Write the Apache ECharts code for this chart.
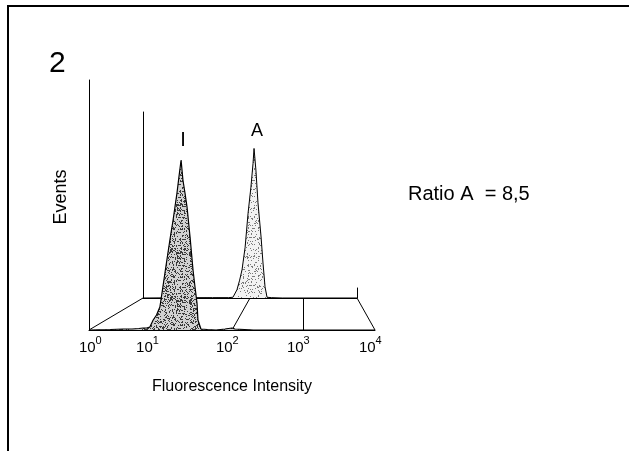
<!DOCTYPE html>
<html>
<head>
<meta charset="utf-8">
<script src="https://cdn.jsdelivr.net/npm/echarts@6/dist/echarts.min.js"></script>
<style>
  html, body { margin: 0; padding: 0; background: #fff; }
  #chart { width: 629px; height: 451px; }
</style>
</head>
<body>
<div id="chart"></div>
<script>
// histogram I (front row): fluorescence channel -> events
const channelI = [1, 2, 3, 4, 5, 5.7, 6.4, 7.1, 7.9, 8.8, 9.8, 10.8, 11.7, 12.7, 13.8, 15, 16, 17, 18.1, 19.4,
  20.6, 22, 23.5, 25.9, 28.5, 30.5, 32.4, 33.4, 36.8, 45, 60, 80, 100, 110, 150, 200, 10000];
const countsI = [0, 0.5, 1, 1, 1.5, 2, 2, 3, 10, 15, 23, 43, 60, 77, 94, 110, 124, 137, 153, 170,
  150, 137, 123, 93, 60, 42, 27, 10, 1, 0.5, 0, 1, 2, 1, 0.5, 0, 0];
// histogram A (back row)
const channelA = [1, 10, 20, 40, 48, 57, 64, 71, 81, 92, 104, 114, 119, 129, 141, 161, 175, 191, 208, 250, 400, 10000];
const countsA = [0, 0.5, 0.5, 0.5, 1, 11, 24, 38, 68, 114, 149, 181, 201, 172, 128, 82, 47, 15, 1, 0.5, 0, 0];
const decades = [1, 10, 100, 1000, 10000];
const floorDecades = [1, 100, 1000, 10000];
const peakI = [19.4, 170];
const peakA = [119, 201];

const FONT = '"Liberation Sans", Arial, Helvetica, sans-serif';
// hand placed tick labels in the original figure (px shift per decade)
const labelNudge = [1.3, -13, -4.7, -5.2, -4.7];

function stipple(base, dot, density, seed) {
  const c = document.createElement('canvas');
  c.width = c.height = 48;
  const ctx = c.getContext('2d');
  ctx.fillStyle = base;
  ctx.fillRect(0, 0, 48, 48);
  ctx.fillStyle = dot;
  let s = seed;
  for (let y = 0; y < 48; y++) {
    for (let x = 0; x < 48; x++) {
      s = (Math.imul(s, 1103515245) + 12345) >>> 0;
      if ((s >>> 16) / 65536 < density) ctx.fillRect(x, y, 1, 1);
    }
  }
  return c;
}

const rich = {
  b: { fontSize: 15, lineHeight: 20, verticalAlign: 'bottom', color: '#000', fontFamily: FONT },
  s: { fontSize: 11, lineHeight: 12, verticalAlign: 'top', color: '#000', fontFamily: FONT }
};
labelNudge.forEach((n, i) => {
  rich['p' + i] = { width: Math.abs(n) * 2, fontSize: 10 };
});

const chart = echarts.init(document.getElementById('chart'));

const option = {
  animation: false,
  backgroundColor: '#fff',
  title: {
    text: '2', left: 44, top: 44,
    textStyle: { fontSize: 30, fontWeight: 'normal', color: '#000', fontFamily: FONT }
  },
  grid: [
    { left: 89, right: 254, top: 80, bottom: 121 },   // front row
    { left: 143, right: 272, top: 112, bottom: 153 }  // back row
  ],
  xAxis: [
    {
      type: 'log', logBase: 10, min: 1, max: 10000, gridIndex: 0,
      axisLine: { lineStyle: { color: '#000', width: 1 } },
      axisTick: { show: false }, splitLine: { show: false },
      axisLabel: {
        margin: 5,
        formatter: v => {
          const n = Math.round(Math.log10(v));
          const main = '{b|10}{s|' + n + '}';
          const pad = '{p' + n + '| }';
          return labelNudge[n] >= 0 ? pad + main : main + pad;
        },
        rich: rich
      },
      name: 'Fluorescence Intensity', nameLocation: 'middle', nameGap: 49,
      nameTextStyle: { fontSize: 16, color: '#000', fontFamily: FONT }
    },
    {
      type: 'log', logBase: 10, min: 1, max: 10000, gridIndex: 1,
      axisLine: { lineStyle: { color: '#000', width: 1 } },
      axisTick: { show: false }, splitLine: { show: false }, axisLabel: { show: false }
    }
  ],
  yAxis: [
    {
      type: 'value', min: 0, max: 250, gridIndex: 0,
      axisLine: { show: true, lineStyle: { color: '#000', width: 1 } },
      axisTick: { show: false }, splitLine: { show: false }, axisLabel: { show: false },
      name: 'Events', nameLocation: 'middle', nameRotate: 90, nameGap: 19,
      nameTextStyle: { fontSize: 18, color: '#000', fontFamily: FONT, padding: [0, 0, 0, 16] }
    },
    {
      type: 'value', min: 0, max: 250, gridIndex: 1,
      axisLine: { show: true, lineStyle: { color: '#000', width: 1 } },
      axisTick: { show: false }, splitLine: { show: false }, axisLabel: { show: false }
    }
  ],
  series: [
    {
      name: 'A', type: 'line', xAxisIndex: 1, yAxisIndex: 1, z: 2,
      data: channelA.map((c, i) => [c, countsA[i]]),
      symbol: 'none', smooth: false,
      lineStyle: { color: '#000', width: 1 },
      areaStyle: { color: { image: stipple('#f2f2f2', '#7a7a7a', 0.15, 7), repeat: 'repeat' }, opacity: 1 },
      markPoint: {
        symbol: 'circle', symbolSize: 0,
        data: [{ coord: peakA }],
        label: { show: true, position: 'top', distance: 8, offset: [3, 0], formatter: 'A',
          fontSize: 18, color: '#000', fontFamily: FONT }
      },
      markLine: {
        silent: true, symbol: 'none', label: { show: false },
        lineStyle: { color: '#000', width: 1, type: 'solid' },
        data: [[{ coord: [10000, 0] }, { coord: [10000, 14] }]]
      }
    },
    {
      name: 'I', type: 'line', xAxisIndex: 0, yAxisIndex: 0, z: 3,
      data: channelI.map((c, i) => [c, countsI[i]]),
      symbol: 'none', smooth: false,
      lineStyle: { color: '#000', width: 1.2 },
      areaStyle: { color: { image: stipple('#d2d2d2', '#3a3a3a', 0.3, 3), repeat: 'repeat' }, opacity: 1 },
      markPoint: {
        symbol: 'circle', symbolSize: 0,
        data: [{ coord: peakI }],
        label: { show: true, position: 'top', distance: 10, offset: [2, 0], formatter: 'I',
          fontSize: 20, color: '#000', fontFamily: FONT }
      }
    }
  ],
  graphic: {
    elements: [
      { id: 'frame', type: 'rect', z: 0, silent: true,
        shape: { x: 8, y: 6, width: 700, height: 600 },
        style: { fill: 'none', stroke: '#000', lineWidth: 2 } },
      { id: 'ratio', type: 'text', z: 5, x: 408, y: 194,
        style: { text: 'Ratio A  = 8,5', fill: '#000', font: '20px ' + FONT,
          textAlign: 'left', textVerticalAlign: 'middle' } }
    ]
  }
};

chart.setOption(option);

// perspective floor: join each decade of the front row to the same decade of the back row
const floor = floorDecades.map((d, i) => {
  const f = chart.convertToPixel({ seriesIndex: 1 }, [d, 0]);
  const b = chart.convertToPixel({ seriesIndex: 0 }, [d, 0]);
  return { id: 'floor' + i, type: 'line', z: 1, silent: true,
    shape: { x1: f[0], y1: f[1], x2: b[0], y2: b[1] },
    style: { stroke: '#000', lineWidth: 1 } };
});
chart.setOption({ graphic: { elements: floor } });
</script>
</body>
</html>
